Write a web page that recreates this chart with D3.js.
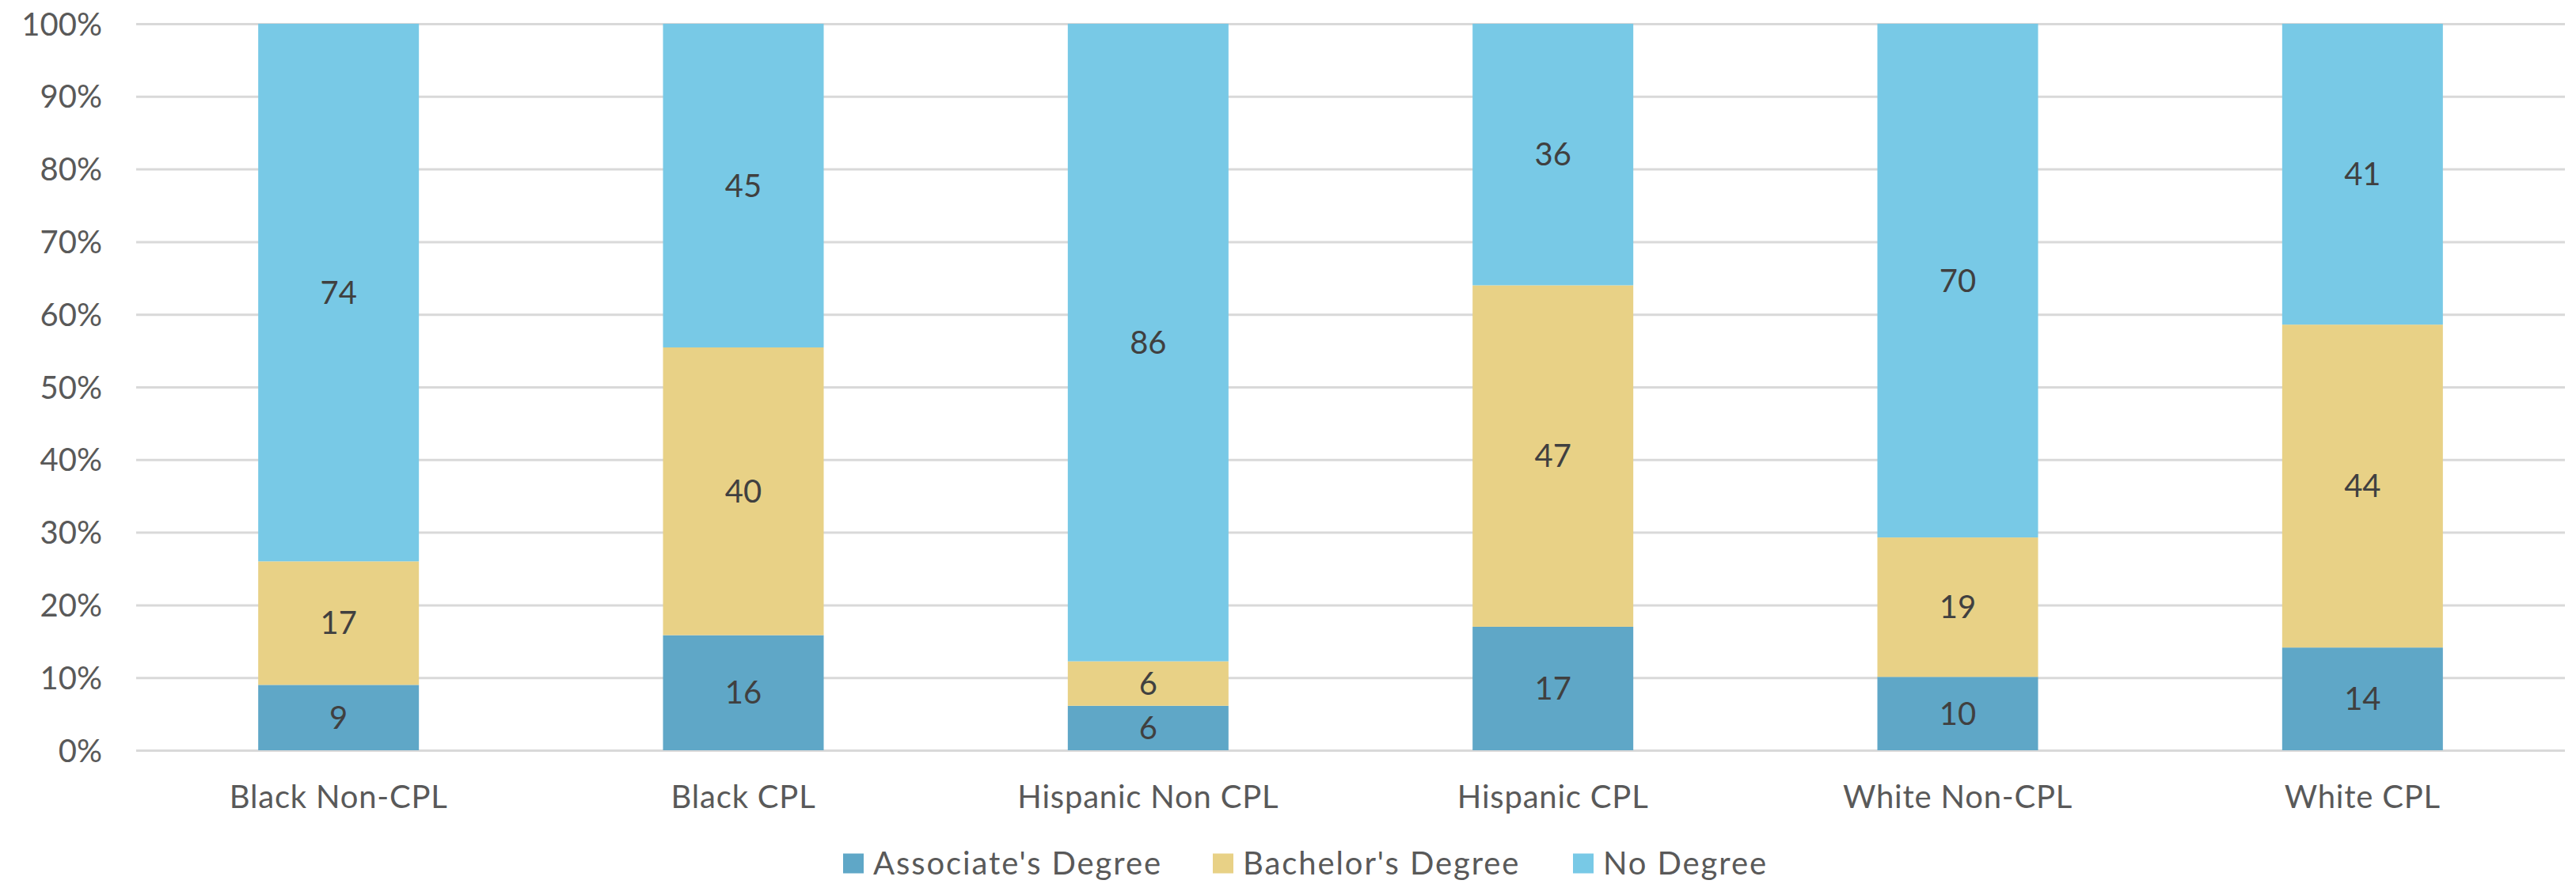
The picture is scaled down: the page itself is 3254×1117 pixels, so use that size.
<!DOCTYPE html>
<html>
<head>
<meta charset="utf-8">
<script src="https://cdn.jsdelivr.net/npm/d3@7"></script>
<style>
  html, body { margin: 0; padding: 0; background: #ffffff; }
  svg { display: block; }
  text { font-family: Lato, "Open Sans", sans-serif; }
</style>
</head>
<body>
<svg id="chart" width="3254" height="1117"></svg>
<script>
const categories = ["Black Non-CPL", "Black CPL", "Hispanic Non CPL", "Hispanic CPL", "White Non-CPL", "White CPL"];
const seriesNames = ["Associate's Degree", "Bachelor's Degree", "No Degree"];
const associate = [9, 16, 6, 17, 10, 14];
const bachelor = [17, 40, 6, 47, 19, 44];
const noDegree = [74, 45, 86, 36, 70, 41];
const colors = ["#5fa7c7", "#e8d186", "#78c9e6"];
const yTicks = [0, 0.1, 0.2, 0.3, 0.4, 0.5, 0.6, 0.7, 0.8, 0.9, 1.0];

const svg = d3.select("#chart");
const W = 3254, H = 1117;
const margin = { left: 172, right: 14, top: 30, bottom: 169 };
const plotW = W - margin.left - margin.right;
const plotH = H - margin.top - margin.bottom;

const g = svg.append("g").attr("transform", `translate(${margin.left},${margin.top})`);

const x = d3.scaleBand().domain(categories).range([0, plotW]).paddingInner(0.603).paddingOuter(0.3015);
const y = d3.scaleLinear().domain([0, 1]).range([plotH, 0]);

const rows = categories.map((c, i) => ({ cat: c, "Associate's Degree": associate[i], "Bachelor's Degree": bachelor[i], "No Degree": noDegree[i] }));
const stacked = d3.stack().keys(seriesNames).offset(d3.stackOffsetExpand)(rows);

// gridlines + y labels
const yAxis = d3.axisLeft(y).tickValues(yTicks).tickSize(-plotW).tickFormat(d3.format(".0%")).tickPadding(43);
const ya = g.append("g").call(yAxis);
ya.select(".domain").remove();
ya.selectAll(".tick line").attr("stroke", "#d9d9d9").attr("stroke-width", 3);
ya.selectAll(".tick text").attr("fill", "#595959").attr("font-size", 40).attr("font-family", "Lato, 'Open Sans', sans-serif").attr("dy", "0.35em");

// bars
const layer = g.selectAll(".layer").data(stacked).enter().append("g").attr("fill", (d, i) => colors[i]);
layer.selectAll("rect").data(d => d.map(v => ({ v, key: d.key }))).enter().append("rect")
  .attr("x", d => x(d.v.data.cat))
  .attr("width", x.bandwidth())
  .attr("y", d => y(d.v[1]))
  .attr("height", d => y(d.v[0]) - y(d.v[1]));

// data labels
layer.selectAll("text").data(d => d.map(v => ({ v, key: d.key }))).enter().append("text")
  .attr("x", d => x(d.v.data.cat) + x.bandwidth() / 2)
  .attr("y", d => (y(d.v[0]) + y(d.v[1])) / 2)
  .attr("dy", "0.35em")
  .attr("text-anchor", "middle")
  .attr("fill", "#404040")
  .attr("font-size", 40)
  .text(d => d.v.data[d.key]);

// x axis labels
const xAxis = d3.axisBottom(x).tickSize(0).tickPadding(45);
const xa = g.append("g").attr("transform", `translate(0,${plotH})`).call(xAxis);
xa.select(".domain").remove();
xa.selectAll(".tick text").attr("fill", "#595959").attr("font-size", 40).attr("letter-spacing", 0.8).attr("font-family", "Lato, 'Open Sans', sans-serif");

// legend
const legendX = [1065, 1532, 1987];
const legend = svg.append("g").attr("transform", `translate(0, 1091)`);
seriesNames.forEach((s, i) => {
  const item = legend.append("g").attr("transform", `translate(${legendX[i]},0)`);
  item.append("rect").attr("x", 0).attr("y", -12.5).attr("width", 26).attr("height", 25).attr("fill", colors[i]);
  item.append("text").attr("x", 38).attr("y", 0).attr("dy", "0.35em").attr("fill", "#595959").attr("font-size", 40).attr("letter-spacing", 1.9).text(s);
});
</script>
</body>
</html>
